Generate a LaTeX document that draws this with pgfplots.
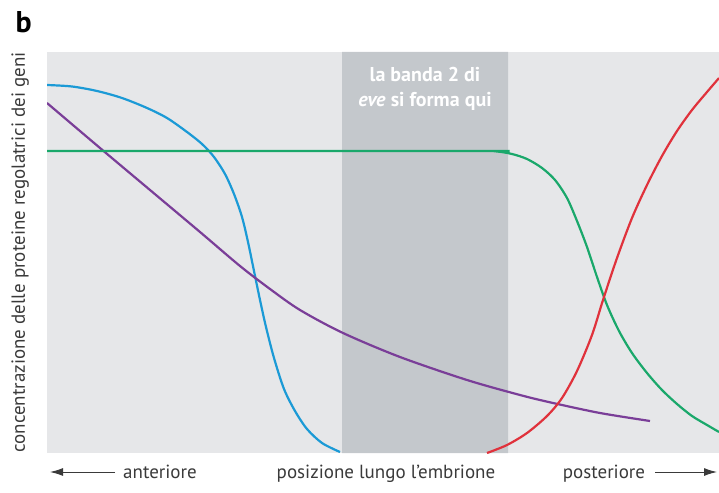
\documentclass[border=0pt]{standalone}
\usepackage{pgfplots}
\pgfplotsset{compat=1.18}
\usepackage{fontspec}
\setmainfont{PT Sans}
\usetikzlibrary{arrows.meta}

\definecolor{bgpanel}{HTML}{E6E7E9}
\definecolor{bandgray}{HTML}{C4C8CC}
\definecolor{cblue}{HTML}{1B9AD6}
\definecolor{cpurple}{HTML}{7A3E98}
\definecolor{cgreen}{HTML}{1AA86B}
\definecolor{cred}{HTML}{E0323C}
\definecolor{txt}{HTML}{3A3A3A}

\begin{document}
\begin{tikzpicture}
\useasboundingbox (0pt,0pt) rectangle (719pt,492pt);
\begin{axis}[
    at={(47pt,39pt)}, anchor=south west,
    width=672pt, height=401pt, scale only axis,
    xmin=0, xmax=672, ymin=0, ymax=401,
    ticks=none,
    axis line style={draw=none},
    axis background/.style={fill=bgpanel},
    clip mode=individual,
    ylabel={\fontsize{19}{22}\selectfont\color{txt}concentrazione delle proteine regolatrici dei geni},
    ylabel style={at={(axis description cs:-0.040,0.5)}, anchor=center},
]
% band
\addplot[draw=none, fill=bandgray] coordinates {(295,0) (461,0) (461,401) (295,401)} \closedcycle;

% blue
\addplot[cblue, line width=2.2pt, smooth, tension=0.5] coordinates {
  (0,368) (25,366.5) (50,362) (75,355) (100,345) (120,335) (140,321)
  (155,309) (167,296) (178,279) (187,259) (195,236) (201,211) (207,182)
  (213,153) (219,126) (227,95) (237,64) (248,42) (260,24) (275,10) (293,1)
};
% purple
\addplot[cpurple, line width=2.2pt, smooth, tension=0.5] coordinates {
  (0,350) (53,305) (103,263) (153,221) (193,187) (223,164) (253,143)
  (296,120) (353,96) (420,73) (473,58) (506,50) (553,40) (603,32)
};
% green
\addplot[cgreen, line width=2.2pt, smooth, tension=0.5] coordinates {
  (0,302) (430,302) (450,301.5) (465,299) (480,294) (495,285) (508,273)
  (520,255) (530,232) (540,206) (550,176) (560,148) (572,122) (585,100)
  (600,80) (615,63) (630,49) (645,37) (660,28) (672,21)
};
% red
\addplot[cred, line width=2.2pt, smooth, tension=0.5] coordinates {
  (440,0) (460,8) (480,20) (500,37) (515,55) (530,82) (545,118)
  (556,153) (570,195) (585,235) (600,268) (615,297) (630,322) (645,343)
  (660,361) (672,375)
};

\node[white, font=\fontsize{20}{24}\selectfont\bfseries, anchor=base] at (axis cs:378,371) {la banda 2 di};
\node[white, font=\fontsize{20}{24}\selectfont\bfseries, anchor=base] at (axis cs:378,346) {\textit{eve} si forma qui};

\node[font=\fontsize{30}{34}\selectfont\bfseries, anchor=base west] at (axis cs:-35,420) {b};

\draw[txt, line width=1pt, -{Latex[length=13pt,width=8pt]}] (axis cs:68,-19) -- (axis cs:3,-19);
\draw[txt, line width=1pt, -{Latex[length=13pt,width=8pt]}] (axis cs:608,-19) -- (axis cs:670,-19);
\node[txt, font=\fontsize{19}{22}\selectfont, anchor=base] at (axis cs:113,-25) {anteriore};
\node[txt, font=\fontsize{19}{22}\selectfont, anchor=base] at (axis cs:339,-25) {posizione lungo l’embrione};
\node[txt, font=\fontsize{19}{22}\selectfont, anchor=base] at (axis cs:557,-25) {posteriore};
\end{axis}
\end{tikzpicture}
\end{document}
